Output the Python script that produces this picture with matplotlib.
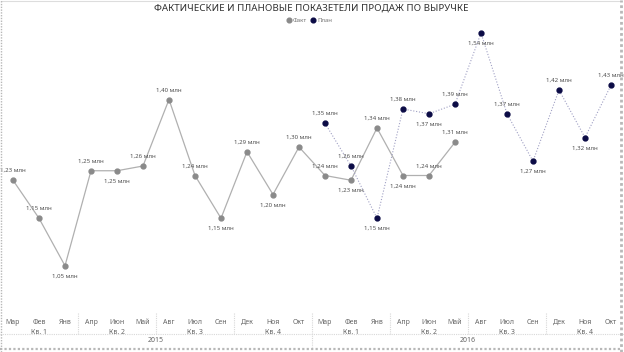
import matplotlib
matplotlib.use("Agg")
import matplotlib.pyplot as plt
import matplotlib.transforms as mtransforms
from matplotlib.lines import Line2D

plt.rcParams['font.family'] = ['Noto Sans', 'DejaVu Sans']

months = ["Мар", "Фев", "Янв", "Апр", "Июн", "Май", "Авг", "Июл", "Сен", "Дек", "Ноя", "Окт"] * 2
quarters = ["Кв. 1", "Кв. 2", "Кв. 3", "Кв. 4"] * 2
years = ["2015", "2016"]

fact = [1.23, 1.15, 1.05, 1.25, 1.25, 1.26, 1.40, 1.24, 1.15, 1.29, 1.20, 1.30,
        1.24, 1.23, 1.34, 1.24, 1.24, 1.31]
plan = [1.35, 1.26, 1.15, 1.38, 1.37, 1.39, 1.54, 1.37, 1.27, 1.42, 1.32, 1.43]
fact_label_pos = ["a", "a", "b", "a", "b", "a", "a", "a", "b", "a", "b", "a",
                  "a", "b", "a", "b", "a", "a"]
plan_label_pos = ["a", "a", "b", "a", "b", "a", "b", "a", "b", "a", "b", "a"]

W, H = 624, 352
fig = plt.figure(figsize=(W / 100, H / 100), dpi=100)
fig.patch.set_facecolor("white")

# axes: pixel y from 28 to 305
ax = fig.add_axes([0.0, (H - 305) / H, 1.0, 277 / H])
ax.set_xlim(-0.5, 23.5)
ax.set_ylim(1.54 - (305 - 33) / 475, 1.54 + 5 / 475)
ax.axis("off")

fact_x = list(range(len(fact)))
plan_x = list(range(12, 12 + len(plan)))

fact_c = "#8a8a8a"
plan_c = "#0b0b45"
ax.plot(fact_x, fact, color="#b0b0b0", lw=0.9, zorder=2)
ax.plot(fact_x, fact, "o", color=fact_c, ms=3.5, zorder=3)
ax.plot(plan_x, plan, color="#a0a0c4", lw=0.8, ls=(0, (1, 1.6)), zorder=2)
ax.plot(plan_x, plan, "o", color=plan_c, ms=3.5, zorder=4)

def lab(xs, vs, pos):
    for x, v, p in zip(xs, vs, pos):
        s = f"{v:.2f}".replace(".", ",")
        off = 7 if p == "a" else -7.5
        ax.annotate(s + " млн", (x, v), xytext=(0, off), textcoords="offset points",
                    ha="center", va="center", fontsize=4.4, color="#505050", zorder=5)

lab(fact_x, fact, fact_label_pos)
lab(plan_x, plan, plan_label_pos)

# title & legend
fig.text(311 / W, 1 - 8 / H, "ФАКТИЧЕСКИЕ И ПЛАНОВЫЕ ПОКАЗЕТЕЛИ ПРОДАЖ ПО ВЫРУЧКЕ",
         ha="center", va="center", fontsize=7.0, color="#333333")
fig.lines.append(Line2D([289 / W], [1 - 20 / H], marker="o", ms=3.4, color=fact_c,
                        transform=fig.transFigure))
fig.text(293 / W, 1 - 20 / H, "Факт", ha="left", va="center", fontsize=4.3, color="#777777")
fig.lines.append(Line2D([313 / W], [1 - 20 / H], marker="o", ms=3.4, color=plan_c,
                        transform=fig.transFigure))
fig.text(317 / W, 1 - 20 / H, "План", ha="left", va="center", fontsize=4.3, color="#777777")

# x axis hierarchical labels
tr = mtransforms.blended_transform_factory(ax.transData, fig.transFigure)
for i, m in enumerate(months):
    ax.text(i, 1 - 322 / H, m, transform=tr, ha="center", va="center",
            fontsize=5, color="#666666", clip_on=False)
for q, name in enumerate(quarters):
    ax.text(q * 3 + 1, 1 - 332 / H, name, transform=tr, ha="center", va="center",
            fontsize=5, color="#666666", clip_on=False)
for y, name in enumerate(years):
    ax.text(y * 12 + 5.5, 1 - 340 / H, name, transform=tr, ha="center", va="center",
            fontsize=5, color="#666666", clip_on=False)

sep_c = "#d8d8d8"
for b in [2.5, 5.5, 8.5, 14.5, 17.5, 20.5]:
    ax.add_line(Line2D([b, b], [1 - 313 / H, 1 - 334 / H], transform=tr, color=sep_c,
                       lw=0.8, ls=(0, (1, 1)), clip_on=False))
ax.add_line(Line2D([11.5, 11.5], [1 - 313 / H, 1 - 347 / H], transform=tr, color=sep_c,
                   lw=0.8, ls=(0, (1, 1)), clip_on=False))
fig.lines.append(Line2D([0, 1], [1 - 334 / H, 1 - 334 / H], transform=fig.transFigure,
                        color=sep_c, lw=0.8, ls=(0, (1, 1))))

# outer border
bc = "#b8b8b8"
fig.lines.append(Line2D([1 / W, 621 / W], [1 - 0.5 / H, 1 - 0.5 / H], transform=fig.transFigure,
                        color="#dddddd", lw=0.8))
fig.lines.append(Line2D([1 / W, 1 / W], [0, 1], transform=fig.transFigure,
                        color=bc, lw=1.0, ls=(0, (1, 1))))
fig.lines.append(Line2D([621 / W, 621 / W], [0, 1], transform=fig.transFigure,
                        color=bc, lw=2.0, ls=(0, (1, 1))))
fig.lines.append(Line2D([0, 621 / W], [1 - 349 / H, 1 - 349 / H], transform=fig.transFigure,
                        color=bc, lw=1.6, ls=(0, (1, 1))))

fig.savefig("out.png", dpi=100, facecolor="white")
